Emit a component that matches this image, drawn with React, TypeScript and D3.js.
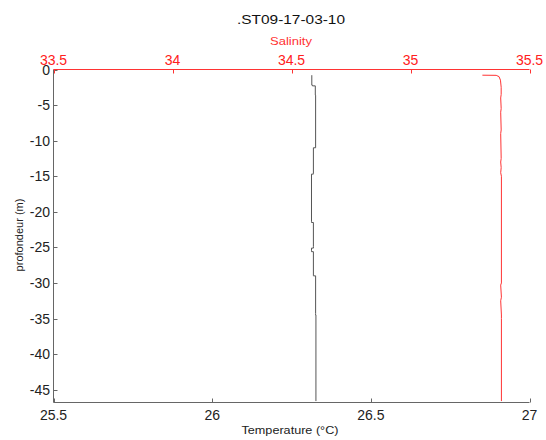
import React from "react";
import * as d3 from "d3";

const title = ".ST09-17-03-10";
const tempTicks = [25.5, 26, 26.5, 27];
const salTicks = [33.5, 34, 34.5, 35, 35.5];
const depthTicks = [0, -5, -10, -15, -20, -25, -30, -35, -40, -45];

const tempDepth = [-0.8, -2.2, -2.3, -3.6, -10.9, -11.0, -14.6, -14.7, -21.4, -21.5, -24.9, -25.1, -25.4, -25.6, -28.9, -29.0, -34.3, -34.5, -46.6];
const tempValue = [26.314, 26.316, 26.325, 26.326, 26.326, 26.319, 26.319, 26.313, 26.313, 26.319, 26.319, 26.313, 26.313, 26.319, 26.319, 26.326, 26.326, 26.327, 26.327];

const salDepth = [-0.8, -0.82, -1.0, -1.5, -2.5, -3.5, -4.0, -5.5, -6.0, -8.5, -9.0, -12.5, -13.0, -13.8, -14.5, -15.0, -30.0, -30.3, -32.0, -32.5, -34.5, -35.0, -46.6];
const salValue = [35.302, 35.36, 35.372, 35.378, 35.381, 35.381, 35.379, 35.381, 35.379, 35.381, 35.379, 35.381, 35.379, 35.381, 35.379, 35.382, 35.382, 35.379, 35.382, 35.379, 35.382, 35.382, 35.382];

const W = 546;
const H = 440;
const left = 53.5;
const right = 529.5;
const top = 69.5;
const bottom = 402.5;

export default function App() {
  const x = d3.scaleLinear().domain([25.5, 27]).range([left, right]);
  const xs = d3.scaleLinear().domain([33.5, 35.5]).range([left, right]);
  const y = d3.scaleLinear().domain([-46.8, 0]).range([bottom, top]);

  const tIdx = d3.range(tempDepth.length);
  const sIdx = d3.range(salDepth.length);
  const tLine = d3
    .line<number>()
    .x((i) => x(tempValue[i]))
    .y((i) => y(tempDepth[i]))
    .curve(d3.curveStepBefore);
  const sLine = d3
    .line<number>()
    .x((i) => xs(salValue[i]))
    .y((i) => y(salDepth[i]));

  const font = "'Liberation Sans', Arial, sans-serif";
  const axisCol = "#666";
  const red = "#ff3333";

  return (
    <svg
      width={W}
      height={H}
      style={{ position: "absolute", left: 0, top: 0, background: "#fff" }}
      fontFamily={font}
    >
      <rect x={0} y={0} width={W} height={H} fill="#fff" />
      {/* title */}
      <text x={291} y={24} textAnchor="middle" fontSize={13} fill="#111" textLength={108} lengthAdjust="spacingAndGlyphs">
        {title}
      </text>
      <text x={291} y={45} textAnchor="middle" fontSize={11} fill={red} textLength={42} lengthAdjust="spacingAndGlyphs">
        Salinity
      </text>

      {/* lines */}
      <path d={tLine(tIdx) || ""} fill="none" stroke="#555" strokeWidth={1} />
      <path d={sLine(sIdx) || ""} fill="none" stroke={red} strokeWidth={1} />

      {/* left axis */}
      <line x1={left} x2={left} y1={top} y2={bottom} stroke={axisCol} strokeWidth={1} />
      {depthTicks.map((d) => (
        <g key={"y" + d}>
          <line x1={left} x2={left + 4} y1={Math.round(y(d)) + 0.5} y2={Math.round(y(d)) + 0.5} stroke={axisCol} />
          <text x={50} y={y(d) + 5} textAnchor="end" fontSize={14} fill="#222">
            {d}
          </text>
        </g>
      ))}

      {/* bottom axis */}
      <line x1={left} x2={right} y1={bottom} y2={bottom} stroke={axisCol} strokeWidth={1} />
      {tempTicks.map((t) => (
        <g key={"x" + t}>
          <line x1={Math.round(x(t)) + 0.5} x2={Math.round(x(t)) + 0.5} y1={bottom} y2={bottom - 4} stroke={axisCol} />
          <text x={x(t)} y={420} textAnchor="middle" fontSize={14} fill="#222">
            {t}
          </text>
        </g>
      ))}
      <text x={290} y={434} textAnchor="middle" fontSize={11.5} fill="#222" textLength={97} lengthAdjust="spacingAndGlyphs">
        Temperature (°C)
      </text>

      {/* top axis */}
      <line x1={left} x2={right} y1={top} y2={top} stroke={red} strokeWidth={1} />
      {salTicks.map((s) => (
        <g key={"s" + s}>
          <line x1={Math.round(xs(s)) + 0.5} x2={Math.round(xs(s)) + 0.5} y1={top} y2={top + 4} stroke={red} />
          <text x={xs(s)} y={65} textAnchor="middle" fontSize={14} fill="#ff2020">
            {s}
          </text>
        </g>
      ))}

      <text
        transform={`translate(23,235) rotate(-90)`}
        textAnchor="middle"
        fontSize={11}
        fill="#222"
      >
        profondeur (m)
      </text>
    </svg>
  );
}
